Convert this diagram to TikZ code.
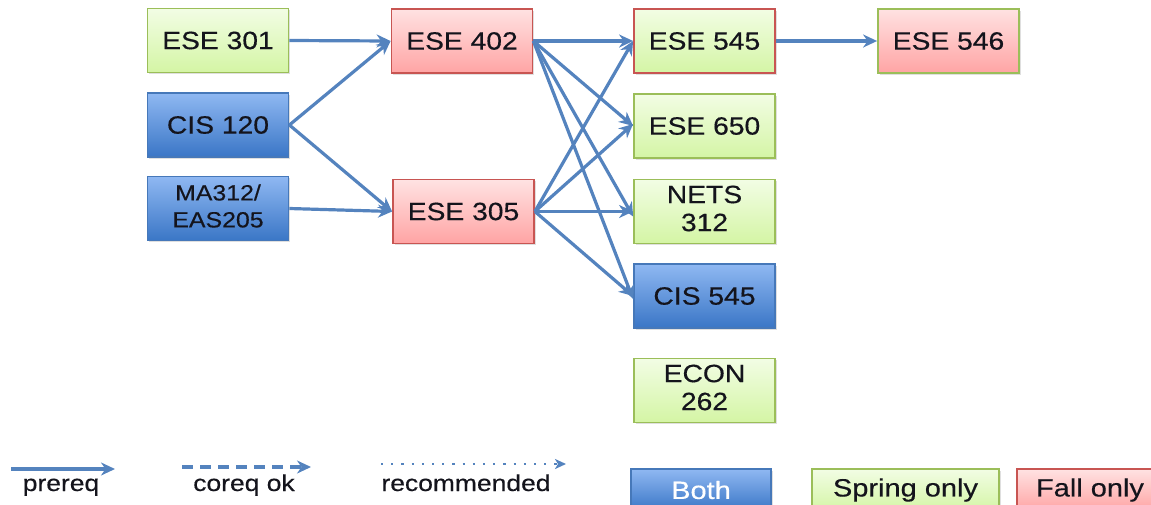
\documentclass[tikz,border=0pt]{standalone}
\usepackage{fontspec}
\setmainfont{Liberation Sans}
\newfontfamily\boxfont{Liberation Sans}[BoldFont={Liberation Sans},BoldFeatures={FakeBold=0.35}]
\usepackage{graphicx}
\usetikzlibrary{arrows.meta,shadows}
\definecolor{grtop}{RGB}{242,253,228}
\definecolor{grbot}{RGB}{212,245,165}
\definecolor{grline}{RGB}{155,190,89}
\definecolor{rdtop}{RGB}{255,226,226}
\definecolor{rdbot}{RGB}{255,164,164}
\definecolor{rdline}{RGB}{200,85,82}
\definecolor{bltop}{RGB}{143,184,242}
\definecolor{blbot}{RGB}{58,118,198}
\definecolor{blline}{RGB}{70,120,185}
\definecolor{arrowc}{RGB}{84,131,190}
\definecolor{txt}{RGB}{20,20,28}
\newcommand\sx[2][1.13]{\scalebox{#1}[1]{#2}}
\tikzset{
  course/.style={minimum width=141pt,minimum height=64pt,line width=1.8pt,inner sep=0pt,
    font=\boxfont\bfseries\fontsize{25}{28}\selectfont,text=txt,
    drop shadow={shadow xshift=1.5pt,shadow yshift=-1.5pt,opacity=0.25}},
  springbox/.style={course,draw=grline,top color=grtop,bottom color=grbot},
  fallbox/.style={course,draw=rdline,top color=rdtop,bottom color=rdbot},
  bothbox/.style={course,draw=blline,top color=bltop,bottom color=blbot},
  prq/.style={line width=3.2pt,draw=arrowc,-{Stealth[length=14pt,width=13pt,inset=4.5pt]}},
  coreqline/.style={prq,dash pattern=on 11pt off 7pt},
  recline/.style={line width=2.2pt,draw=arrowc,dash pattern=on 2.2pt off 8pt,
    -{Stealth[length=11pt,width=10pt,inset=3pt]}},
  legtext/.style={anchor=base,inner sep=0pt,font=\boxfont\bfseries\fontsize{23}{25}\selectfont,text=txt},
}
\begin{document}
\begin{tikzpicture}[x=1pt,y=-1pt]
\useasboundingbox (0,0) rectangle (1151,504);
\clip (0,0) rectangle (1151,504);
% column 1
\node[springbox] (e301) at (218,40.5) {\sx{ESE 301}};
\node[bothbox] (c120) at (218,125) {\sx{CIS 120}};
\node[bothbox] (ma312) at (218,208.5) {\sx{\fontsize{22}{27}\selectfont\begin{tabular}{@{}c@{}}MA312/\\EAS205\end{tabular}}};
% column 2
\node[fallbox] (e402) at (462,41) {\sx{ESE 402}};
\node[fallbox] (e305) at (463.5,211.5) {\sx{ESE 305}};
% column 3
\node[springbox,draw=rdline] (e545) at (704.5,41) {\sx{ESE 545}};
\node[springbox] (e650) at (704.5,126) {\sx{ESE 650}};
\node[springbox] (n312) at (704.5,211.5) {\sx{\begin{tabular}{@{}c@{}}NETS\\312\end{tabular}}};
\node[bothbox] (c545) at (704.5,296) {\sx{CIS 545}};
\node[springbox] (econ) at (704.5,390.5) {\sx{\begin{tabular}{@{}c@{}}ECON\\262\end{tabular}}};
% column 4
\node[fallbox,draw=grline] (e546) at (948.5,41) {\sx{ESE 546}};
% edges
\draw[prq] (e301.east) -- (e402.west);
\draw[prq] (c120.east) -- (e402.west);
\draw[prq] (c120.east) -- (e305.west);
\draw[prq] (ma312.east) -- (e305.west);
\draw[prq] (e402.east) -- (e545.west);
\draw[prq] (e402.east) -- (e650.west);
\draw[prq] (e402.east) -- ([yshift=-5pt]n312.west);
\draw[prq] (e402.east) -- ([yshift=-3pt]c545.west);
\draw[prq] (e305.east) -- (e545.west);
\draw[prq] (e305.east) -- ([yshift=2pt]e650.west);
\draw[prq] (e305.east) -- (n312.west);
\draw[prq] (e305.east) -- (c545.west);
\draw[prq] (e545.east) -- (e546.west);
% legend
\coordinate (pa) at (11,469);
\coordinate (pb) at (115,469);
\draw[prq] (pa) -- (pb);
\coordinate (ca) at (182,467);
\coordinate (cb) at (311,467);
\draw[coreqline] (ca) -- (cb);
\coordinate (ra) at (381,464);
\coordinate (rb) at (566,464);
\draw[recline] (ra) -- (rb);
\node[legtext] (lt1) at (61,491) {\sx[1.15]{prereq}};
\node[legtext] (lt2) at (244,491) {\sx[1.15]{coreq ok}};
\node[legtext] (lt3) at (466,491) {\sx[1.15]{recommended}};
\node[bothbox,minimum width=140pt,minimum height=42pt,text=white] (lb) at (701,490) {\sx[1.16]{Both}};
\node[springbox,minimum width=187pt,minimum height=42pt] (ls) at (905.5,490) {\sx[1.16]{Spring only}};
\node[fallbox,minimum width=146pt,minimum height=42pt] (lf) at (1090,490) {\sx[1.16]{Fall only}};
\end{tikzpicture}
\end{document}
